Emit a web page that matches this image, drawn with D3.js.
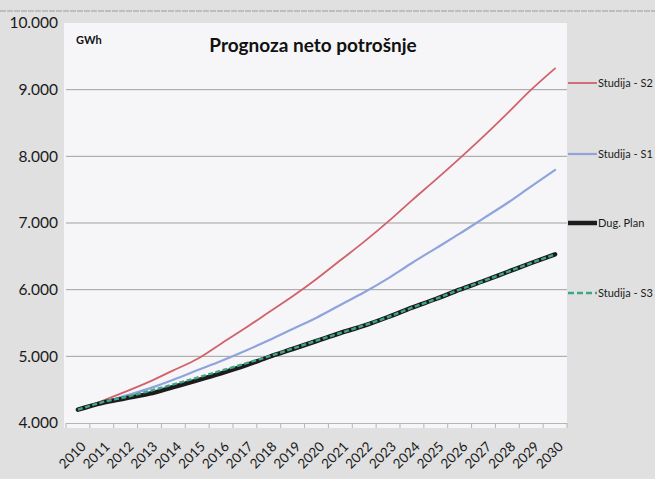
<!DOCTYPE html>
<html>
<head>
<meta charset="utf-8">
<script src="https://cdn.jsdelivr.net/npm/d3@7"></script>
<style>
  html, body { margin: 0; padding: 0; background: #e2e2e2; }
  svg { display: block; }
</style>
</head>
<body>
<svg id="chart" width="655" height="479"></svg>
<script>
const years = d3.range(2010, 2031).map(String);
const studijaS2 = [4200, 4330, 4470, 4620, 4790, 4960, 5190, 5420, 5660, 5900, 6160, 6440, 6720, 7020, 7340, 7650, 7970, 8300, 8645, 9000, 9320];
const studijaS1 = [4200, 4300, 4410, 4520, 4650, 4790, 4930, 5080, 5240, 5410, 5580, 5770, 5960, 6170, 6400, 6620, 6840, 7070, 7300, 7550, 7795];
const dugPlan   = [4200, 4300, 4370, 4440, 4540, 4640, 4745, 4860, 4990, 5110, 5230, 5350, 5460, 5590, 5730, 5860, 6000, 6130, 6265, 6400, 6530];
const studijaS3 = [4200, 4310, 4390, 4480, 4580, 4680, 4785, 4890, 5000, 5115, 5235, 5350, 5465, 5590, 5730, 5860, 6000, 6130, 6265, 6400, 6530];
const yTicks = [4000, 5000, 6000, 7000, 8000, 9000, 10000];
const yTickLabels = ["4.000", "5.000", "6.000", "7.000", "8.000", "9.000", "10.000"];
const seriesNames = ["Studija - S2", "Studija - S1", "Dug. Plan", "Studija - S3"];
const chartTitle = "Prognoza neto potrošnje";
const unitLabel = "GWh";

const svg = d3.select("#chart");
const W = 655, H = 479;
const plot = { left: 66, right: 567, top: 23, bottom: 423 };
const FONT = "Lato, 'Open Sans', sans-serif";

svg.append("rect").attr("width", W).attr("height", H).attr("fill", "#e0e0e0");
svg.append("line").attr("x1", 0).attr("x2", W).attr("y1", 11).attr("y2", 11)
  .attr("stroke", "#9a9a9a").attr("stroke-width", 1).attr("stroke-dasharray", "6,1");

// plot area
svg.append("rect").attr("x", plot.left - 2).attr("y", plot.top)
  .attr("width", plot.right - plot.left + 2).attr("height", plot.bottom - plot.top + 5)
  .attr("fill", "#f6f6f8");

const x = d3.scalePoint().domain(years).range([plot.left, plot.right]).padding(0.5);
const y = d3.scaleLinear().domain([4000, 10000]).range([plot.bottom, plot.top]);

// gridlines
svg.append("g").selectAll("line").data(yTicks.filter(v => v > 4000 && v < 10000)).join("line")
  .attr("x1", plot.left).attr("x2", plot.right)
  .attr("y1", d => y(d)).attr("y2", d => y(d))
  .attr("stroke", "#a0a0a0").attr("stroke-width", 1);

// y axis labels
const yAxis = d3.axisLeft(y).tickValues(yTicks).tickFormat((d, i) => yTickLabels[i]).tickSize(0).tickPadding(8);
const gy = svg.append("g").attr("transform", `translate(${plot.left},0)`).call(yAxis);
gy.select(".domain").remove();
gy.selectAll("text").attr("font-family", FONT).attr("font-size", 15.5).attr("fill", "#1a1a1a");

// x axis
const step = x.step();
const xAxis = d3.axisBottom(x).tickSize(0).tickPadding(0);
const gx = svg.append("g").attr("transform", `translate(0,${plot.bottom})`).call(xAxis);
gx.select(".domain").attr("stroke", "#b5b5b5").attr("d", `M${plot.left},0.5H${plot.right}`);
gx.selectAll(".tick text")
  .attr("font-family", FONT).attr("font-size", 13.5).attr("fill", "#1a1a1a")
  .attr("text-anchor", "end")
  .attr("y", 0)
  .attr("dy", "0.35em")
  .attr("transform", "translate(5,21) rotate(-45)");
// boundary tick marks
svg.append("g").selectAll("line").data(years.concat(["end"])).join("line")
  .attr("x1", (d, i) => plot.left + i * step).attr("x2", (d, i) => plot.left + i * step)
  .attr("y1", plot.bottom).attr("y2", plot.bottom + 5)
  .attr("stroke", "#b5b5b5").attr("stroke-width", 1);

// lines
const lineGen = d3.line().x((d, i) => x(years[i])).y(d => y(d)).curve(d3.curveMonotoneX);
const styles = [
  { data: studijaS2, color: "#d0626a", width: 1.8, dash: null },
  { data: studijaS1, color: "#8fa3dd", width: 2.2, dash: null },
  { data: dugPlan,   color: "#1c1c1c", width: 4.5, dash: null },
  { data: studijaS3, color: "#3da888", width: 2.4, dash: "5,2.5" }
];
styles.forEach(s => {
  svg.append("path").datum(s.data).attr("d", lineGen)
    .attr("fill", "none").attr("stroke", s.color).attr("stroke-width", s.width)
    .attr("stroke-linecap", s.dash ? "butt" : "round").attr("stroke-linejoin", "round")
    .attr("stroke-dasharray", s.dash);
});

// title
svg.append("text").attr("x", 313).attr("y", 52).attr("text-anchor", "middle")
  .attr("font-family", FONT).attr("font-weight", "bold")
  .attr("font-size", 19).attr("fill", "#111").text(chartTitle);
svg.append("text").attr("x", 76).attr("y", 44)
  .attr("font-family", FONT).attr("font-weight", "bold")
  .attr("font-size", 11).attr("fill", "#111").text(unitLabel);

// legend
const legendY = [83, 154, 223, 293];
const lg = svg.append("g");
styles.forEach((s, i) => {
  lg.append("line").attr("x1", 568).attr("x2", 597).attr("y1", legendY[i]).attr("y2", legendY[i])
    .attr("stroke", s.color).attr("stroke-width", s.width)
    .attr("stroke-dasharray", s.dash ? "6,3" : null);
  lg.append("text").attr("x", 598).attr("y", legendY[i]).attr("dy", "0.35em")
    .attr("font-family", FONT).attr("font-size", 11).attr("fill", "#1a1a1a")
    .text(seriesNames[i]);
});
</script>
</body>
</html>
